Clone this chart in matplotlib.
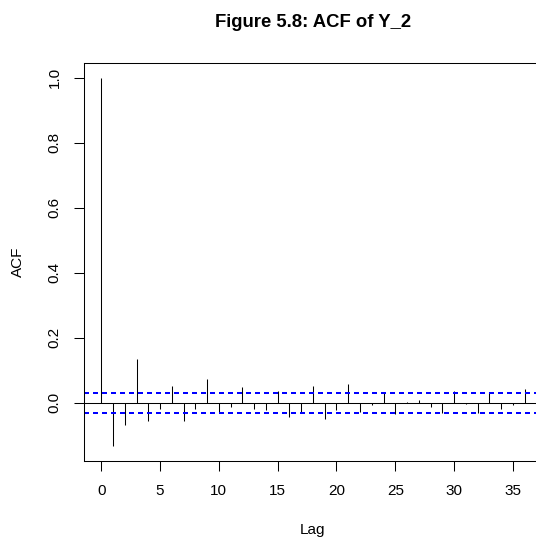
import matplotlib
matplotlib.use("Agg")
import matplotlib.pyplot as plt
import numpy as np

# ACF values, lags 0..36
lags = np.arange(37)
acf_vals = [1.0, -0.133, -0.069, 0.135, -0.057, -0.020, 0.053, -0.056, -0.020,
            0.074, -0.027, -0.013, 0.048, -0.018, -0.023, 0.037, -0.043, -0.031,
            0.051, -0.050, -0.023, 0.058, -0.028, -0.006, 0.031, -0.035, 0.002,
            0.008, -0.012, -0.031, 0.037, -0.005, -0.031, 0.034, -0.018, -0.008,
            0.043]
conf = 0.0306
xticks = [0, 5, 10, 15, 20, 25, 30, 35]
yticks = [0.0, 0.2, 0.4, 0.6, 0.8, 1.0]

plt.rcParams['font.family'] = ['Liberation Sans', 'DejaVu Sans']
plt.rcParams['lines.scale_dashes'] = False

fig = plt.figure(figsize=(5.36, 5.42), dpi=100)
ax = fig.add_axes([0.1573, 0.15, 0.8532, 0.7332])

ax.vlines(lags, 0, acf_vals, colors="black", lw=0.75)
ax.axhline(0, color="black", lw=0.75)
for c in (conf, -conf):
    ax.axhline(c, color="#0000ff", lw=1.1, linestyle=(0, (2.9, 2.9)),
               antialiased=False)

ax.set_xlim(-1.44, 37.44)
ax.set_ylim(-0.178, 1.045)
ax.set_xticks(xticks)
ax.set_yticks(yticks)
ax.set_yticklabels(["%.1f" % v for v in yticks], rotation=90, va="center")
ax.tick_params(axis="both", length=7.5, width=0.75, labelsize=11, pad=9)
for sp in ax.spines.values():
    sp.set_linewidth(0.75)

ax.set_xlabel("Lag", fontsize=11, labelpad=18)
ax.set_ylabel("ACF", fontsize=11, labelpad=16)
fig.text(0.584, 0.958, "Figure 5.8: ACF of Y_2", fontsize=13.3, fontweight="bold",
         ha="center", va="center")

fig.savefig("out.png", dpi=100)
